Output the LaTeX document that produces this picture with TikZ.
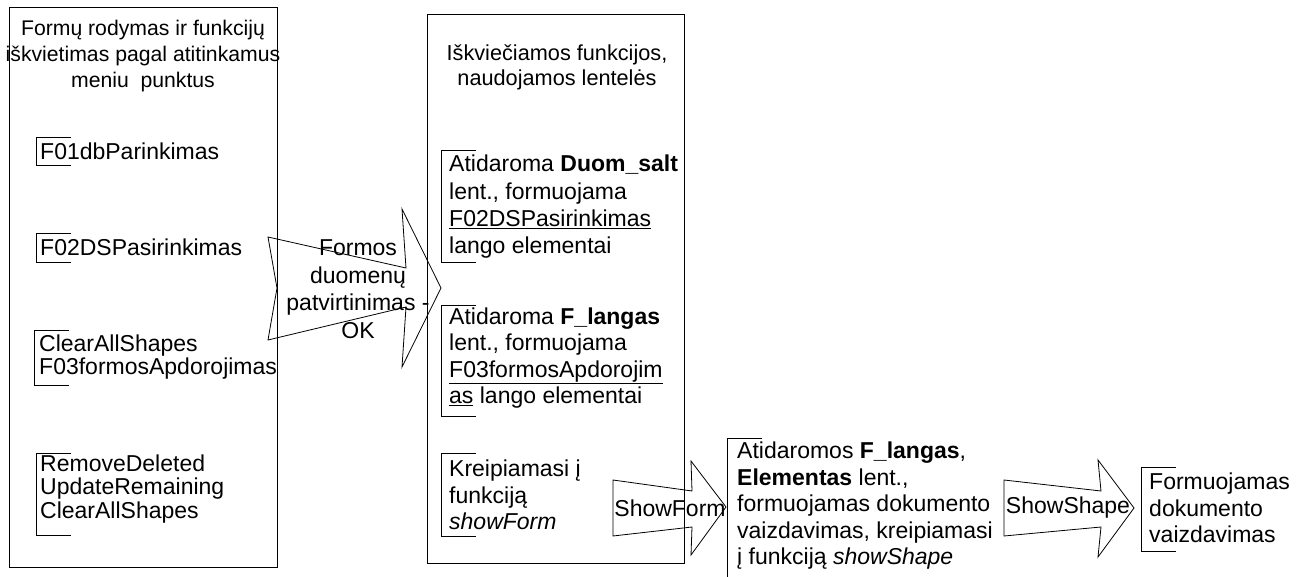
\documentclass[tikz,border=0pt]{standalone}
\usepackage{fontspec}
\setmainfont{Liberation Sans}
% bracket drawn at the left of a text block: x, top y, bottom y
\newcommand{\brkt}[3]{\draw[brk] (#1+35,#2) -- (#1,#2) -- (#1,#3) -- (#1+35,#3);}
\begin{document}
\begin{tikzpicture}[x=1pt,y=-1pt,
  frame/.style={draw=black, line width=0.8pt, inner sep=0pt, anchor=north west},
  brk/.style={draw=black, line width=0.8pt},
  bigarrow/.style={draw=black, line width=0.8pt, line join=miter},
  item/.style={anchor=west, inner sep=0pt, align=left, font=\fontsize{23}{23.5}\selectfont},
  note/.style={anchor=west, inner sep=0pt, align=left, font=\fontsize{23}{26.5}\selectfont},
  label/.style={inner sep=0pt, align=center, font=\fontsize{23}{27.5}\selectfont},
]
\useasboundingbox (0,0) rectangle (1309,577);

% column frames
\node[frame, minimum width=268pt, minimum height=560pt] (leftbox) at (9,7) {};
\node[frame, minimum width=257pt, minimum height=549pt] (midbox) at (427,14) {};

% left column
\node[inner sep=0pt, align=center, font=\fontsize{21.2}{26}\selectfont] (lefttitle) at (143,56)
  {Formų rodymas ir funkcijų\\iškvietimas pagal atitinkamus\\meniu\ \ punktus};
\node[item] (f01) at (40,151) {F01dbParinkimas};
\node[item] (f02) at (40,247) {F02DSPasirinkimas};
\node[item] (f03) at (39,357) {ClearAllShapes\\F03formosApdorojimas};
\node[item] (rem) at (40,489) {RemoveDeleted\\UpdateRemaining\\ClearAllShapes};
\brkt{36}{137}{165}
\brkt{36}{233}{262}
\brkt{34}{330}{385}
\brkt{36}{453}{535}

% middle column
\node[inner sep=0pt, align=center, font=\fontsize{21.7}{25}\selectfont] (midtitle) at (557,67)
  {Iškviečiamos funkcijos,\\naudojamos lentelės};
\node[note, font=\fontsize{23}{27.3}\selectfont] (m1) at (449,207)
  {Atidaroma \textbf{Duom\_salt}\\lent., formuojama\\\underline{F02DSPasirinkimas}\\lango elementai};
\node[note] (m2) at (449,358)
  {Atidaroma \textbf{F\_langas}\\lent., formuojama\\\underline{F03formosApdorojim}\\\underline{as} lango elementai};
\node[note] (m3) at (449,495)
  {Kreipiamasi į\\funkciją\\\textit{showForm}};
\brkt{441}{150}{262}
\brkt{441}{305}{416}
\brkt{441}{453}{536}

% confirmation arrow
\draw[bigarrow] (268,237) -- (406,268) -- (402,209) -- (441,288) -- (402,367)
  -- (406,307) -- (268,340) -- (277,288) -- cycle;
\node[label] (ok) at (358,289) {Formos\\duomenų\\patvirtinimas -\\OK};

% showForm arrow
\draw[bigarrow] (613,480) -- (692,491) -- (691,461) -- (726,507) -- (691,555)
  -- (692,527) -- (613,536) -- cycle;
\node[label] (showform) at (670,508) {ShowForm};

% document view block
\node[note] (doc) at (737,506)
  {Atidaromos \textbf{F\_langas},\\\textbf{Elementas} lent.,\\formuojamas dokumento\\vaizdavimas, kreipiamasi\\į funkciją \textit{showShape}};
\brkt{727}{438}{580}

% showShape arrow
\draw[bigarrow] (1004,480) -- (1101,491) -- (1098,460) -- (1134,508) -- (1098,557)
  -- (1101,527) -- (1004,536) -- cycle;
\node[label] (showshape) at (1068,508) {ShowShape};

% final block
\node[note] (final) at (1149,508) {Formuojamas\\dokumento\\vaizdavimas};
\brkt{1141}{467}{551}
\end{tikzpicture}
\end{document}
